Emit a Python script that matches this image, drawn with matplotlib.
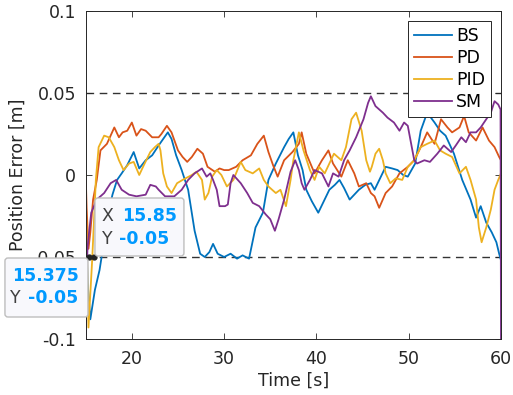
import matplotlib
matplotlib.use('Agg')
import matplotlib.pyplot as plt
from matplotlib.patches import FancyBboxPatch
from matplotlib.transforms import IdentityTransform

######## data
t_bs = [15.0, 15.2, 15.5, 16.0, 16.5, 17.0, 17.5, 17.9, 18.4, 18.9, 19.5, 20.2, 20.8, 21.5, 22.2, 22.9,
        23.4, 23.9, 24.3, 24.8, 25.4, 26.1, 26.8, 27.4, 27.9, 28.4, 28.8, 29.3, 30.0, 30.7, 31.4, 32.0,
        32.7, 33.4, 34.2, 34.8, 35.6, 36.5, 37.0, 37.5, 38.0, 38.5, 38.9, 39.5, 40.2, 40.8, 41.4, 42.0,
        42.5, 43.0, 43.6, 44.1, 44.6, 45.3, 45.9, 46.3, 46.9, 47.5, 48.2, 48.8, 49.4, 49.9, 50.7, 51.3,
        52.0, 52.8, 53.4, 54.0, 54.9, 55.8, 56.7, 57.3, 57.8, 58.4, 59.0, 59.5, 59.8, 60.0]
bs = [-0.020, -0.065, -0.088, -0.070, -0.058, -0.040, -0.022, -0.012, -0.003, 0.001, 0.006, 0.014, 0.004,
      0.009, 0.012, 0.018, 0.022, 0.026, 0.022, 0.012, 0.003, -0.009, -0.034, -0.048, -0.050, -0.047,
      -0.042, -0.048, -0.050, -0.048, -0.051, -0.049, -0.051, -0.032, -0.023, -0.003, 0.007, 0.017, 0.022,
      0.026, 0.012, 0.003, -0.009, -0.016, -0.023, -0.016, -0.009, -0.006, -0.003, -0.008, -0.015, -0.012,
      -0.009, -0.006, -0.005, -0.009, -0.002, 0.005, 0.004, 0.003, 0.000, -0.001, 0.007, 0.027, 0.038,
      0.032, 0.027, 0.024, 0.013, -0.003, -0.015, -0.026, -0.019, -0.029, -0.035, -0.041, -0.048, -0.052]

t_pd = [15.0, 15.1, 15.3, 15.5, 15.8, 16.2, 16.6, 17.3, 17.7, 18.1, 18.6, 19.0, 19.5, 20.0, 20.5, 21.0,
        21.5, 22.2, 22.9, 23.2, 23.8, 24.3, 25.0, 25.5, 26.0, 26.5, 27.1, 27.7, 28.2, 29.0, 29.5, 30.0,
        30.5, 31.3, 32.0, 32.9, 33.6, 34.3, 34.8, 35.3, 35.8, 36.5, 37.4, 38.1, 38.4, 38.9, 39.8, 40.6,
        41.3, 41.8, 42.7, 43.4, 44.1, 44.6, 45.4, 45.9, 46.3, 46.8, 47.5, 48.2, 49.0, 49.9, 50.6, 51.3,
        52.0, 52.8, 53.5, 54.2, 54.7, 55.5, 56.0, 56.5, 57.3, 58.0, 58.7, 59.3, 59.8, 60.0]
pd_ = [0.000, -0.020, -0.045, -0.035, -0.015, -0.003, 0.015, 0.019, 0.024, 0.029, 0.023, 0.026, 0.027,
       0.032, 0.024, 0.028, 0.027, 0.023, 0.023, 0.025, 0.030, 0.026, 0.015, 0.011, 0.008, 0.011, 0.016,
       0.013, 0.005, 0.002, 0.004, 0.003, 0.003, 0.005, 0.009, 0.012, 0.019, 0.024, 0.014, 0.006, -0.001,
       0.009, 0.014, 0.019, 0.026, 0.013, 0.001, 0.009, 0.015, 0.007, -0.001, 0.009, 0.001, -0.007, -0.005,
       -0.011, -0.013, -0.020, -0.011, -0.007, 0.001, 0.005, 0.009, 0.017, 0.026, 0.019, 0.034, 0.029,
       0.026, 0.029, 0.036, 0.026, 0.021, 0.029, 0.021, 0.017, 0.011, 0.009]

t_pid = [15.0, 15.3, 15.7, 16.1, 16.4, 17.0, 17.5, 18.1, 18.6, 19.1, 19.7, 20.2, 20.8, 21.3, 22.0, 22.5,
         22.9, 23.1, 23.4, 23.8, 24.3, 24.9, 25.5, 26.5, 27.0, 27.6, 27.9, 28.3, 28.7, 29.2, 29.7, 30.3,
         31.0, 31.8, 32.3, 33.1, 33.8, 34.3, 34.8, 35.6, 36.1, 36.7, 37.2, 37.5, 38.1, 38.6, 39.3, 39.8,
         40.3, 40.9, 41.4, 41.9, 42.7, 43.2, 43.8, 44.3, 44.9, 45.4, 45.8, 46.0, 46.4, 46.8, 47.2, 47.5,
         48.0, 48.6, 49.3, 49.9, 50.6, 51.3, 52.0, 52.8, 53.4, 54.0, 54.7, 55.5, 56.2, 56.7, 57.3, 57.6,
         57.9, 58.4, 58.9, 59.3, 59.7, 60.0]
pid = [-0.010, -0.093, -0.052, -0.003, 0.017, 0.024, 0.023, 0.017, 0.009, 0.003, 0.007, 0.008, 0.000,
       0.006, 0.014, 0.017, 0.019, 0.015, 0.001, -0.007, -0.011, -0.005, -0.003, 0.000, 0.002, -0.003,
       -0.015, -0.011, -0.001, 0.003, 0.000, -0.007, -0.003, 0.008, 0.003, 0.001, 0.004, -0.003, -0.007,
       -0.011, -0.009, -0.019, -0.003, 0.009, 0.026, 0.015, 0.003, -0.003, 0.005, 0.001, 0.007, 0.013,
       0.009, 0.017, 0.034, 0.038, 0.027, 0.009, 0.002, 0.005, 0.013, 0.016, 0.009, 0.001, -0.005, -0.002,
       -0.003, 0.005, 0.009, 0.017, 0.019, 0.021, 0.015, 0.013, 0.011, 0.001, 0.005, -0.003, -0.015,
       -0.032, -0.041, -0.032, -0.021, -0.009, -0.003, 0.001]

t_sm = [15.0, 15.1, 15.2, 15.6, 16.2, 17.0, 17.7, 18.3, 18.9, 19.7, 20.5, 21.5, 22.0, 22.6, 22.9, 23.6,
        24.6, 25.4, 26.1, 26.8, 27.6, 28.1, 28.5, 28.8, 29.2, 29.5, 30.1, 30.4, 30.7, 31.0, 31.8, 32.5,
        33.1, 33.8, 34.5, 35.0, 35.5, 35.9, 36.5, 37.2, 37.7, 38.1, 38.4, 38.7, 39.3, 39.8, 40.6, 41.3,
        41.8, 42.4, 43.0, 43.6, 44.3, 45.1, 45.6, 45.9, 46.4, 47.2, 47.7, 48.4, 49.0, 49.5, 49.9, 50.2,
        50.6, 50.9, 51.7, 52.3, 53.1, 53.8, 54.6, 55.1, 55.7, 56.2, 56.7, 57.3, 57.8, 58.4, 58.9, 59.3,
        59.7, 59.95, 60.0]
sm = [-0.100, -0.060, -0.044, -0.023, -0.015, -0.011, -0.005, -0.003, -0.009, -0.012, -0.013, -0.012,
      -0.006, -0.007, -0.009, -0.013, -0.013, -0.009, -0.003, 0.001, 0.004, -0.001, 0.001, -0.003, -0.009,
      -0.019, -0.019, -0.018, -0.005, 0.000, -0.005, -0.011, -0.017, -0.019, -0.024, -0.027, -0.034,
      -0.027, -0.015, 0.002, 0.009, 0.003, -0.005, -0.009, -0.003, 0.003, 0.001, -0.007, 0.001, -0.001,
      0.009, 0.015, 0.023, 0.034, 0.044, 0.048, 0.042, 0.038, 0.035, 0.032, 0.027, 0.032, 0.030, 0.021,
      0.009, 0.007, 0.009, 0.008, 0.013, 0.018, 0.014, 0.018, 0.023, 0.020, 0.026, 0.026, 0.029, 0.034,
      0.038, 0.045, 0.043, 0.040, -0.100]

names = ['BS', 'PD', 'PID', 'SM']
colors = ['#0072BD', '#D95319', '#EDB120', '#7E2F8E']
bound = 0.05
xticks = [20, 30, 40, 50, 60]
yticks = [-0.1, -0.05, 0, 0.05, 0.1]
ytick_labels = ['-0.1', '-0.05', '0', '0.05', '0.1']

# data tip points
tip_x = [15.85, 15.375]
tip_y = [-0.05, -0.05]

plt.rcParams['font.family'] = 'DejaVu Sans'
fig = plt.figure(figsize=(5.13, 3.95), dpi=100)
ax = fig.add_axes([85.7/513, 56/395, 415.3/513, 328/395])

ax.axhline(bound, color='#333333', lw=1.0, dashes=(5.5, 4), zorder=1)
ax.axhline(-bound, color='#333333', lw=1.0, dashes=(5.5, 4), zorder=1)

for tt, vv, nm, cc in zip([t_bs, t_pd, t_pid, t_sm], [bs, pd_, pid, sm], names, colors):
    ax.plot(tt, vv, color=cc, lw=1.3, label=nm, zorder=2)

ax.set_xlim(15, 60)
ax.set_ylim(-0.1, 0.1)
ax.set_xticks(xticks)
ax.set_yticks(yticks)
ax.set_yticklabels(ytick_labels)
ax.tick_params(direction='in', top=True, right=True, length=4, width=0.6,
               colors='#262626', labelsize=12.5)
ax.tick_params(axis='x', pad=8)
ax.tick_params(axis='y', pad=7)
for sp in ax.spines.values():
    sp.set_color('#262626')
    sp.set_linewidth(0.7)

ax.set_xlabel('Time [s]', fontsize=12.5, color='#262626')
ax.set_ylabel('Position Error [m]', fontsize=12.5, color='#262626')
ax.xaxis.set_label_coords(0.5, -0.10)
ax.yaxis.set_label_coords(-0.141, 0.5)

leg = ax.legend(loc='upper right', bbox_to_anchor=(0.976, 0.9695), fontsize=12.5,
                handlelength=2.2, handletextpad=0.25, labelspacing=0.24, borderpad=0.33,
                borderaxespad=0, fancybox=False, framealpha=1, edgecolor='#262626')
leg.get_frame().set_linewidth(0.7)

##### data tip markers
ax.plot(tip_x, tip_y, 'o', ms=3.5, color='#222222', zorder=6, clip_on=False)

##### data tip boxes, offsets in pixels from the marked point
ident = IdentityTransform()
tipfont = 12.5
tipblue = '#0099FF'
tipgray = '#404040'

def data_tip(x, y, box, rows):
    px, py = ax.transData.transform((x, y))
    x0, y0, x1, y1 = box
    patch = FancyBboxPatch((px + x0, py + y0), x1 - x0, y1 - y0,
                           boxstyle='round,pad=0,rounding_size=3', transform=ident,
                           facecolor='#F8F8FC', edgecolor='#BEBEBE', lw=1.0, zorder=7)
    fig.add_artist(patch)
    for dx, dy, s, bold in rows:
        fig.text(px + dx, py + dy, s, transform=ident, fontsize=tipfont, va='center',
                 ha='left', color=tipblue if bold else tipgray,
                 fontweight='bold' if bold else 'normal', zorder=8)

fig.canvas.draw()
data_tip(tip_x[0], tip_y[0], (1.4, 1, 90.4, 59),
         [(8.4, 41, 'X', False), (28.4, 41, '15.85', True),
          (8.4, 18, 'Y', False), (25.7, 18, '-0.05', True)])
data_tip(tip_x[1], tip_y[1], (-84.2, -60, -1.2, -1),
         [(-77.2, -19, '15.375', True),
          (-79.2, -41, 'Y', False), (-61.2, -41, '-0.05', True)])

plt.savefig('out.png', dpi=100)
